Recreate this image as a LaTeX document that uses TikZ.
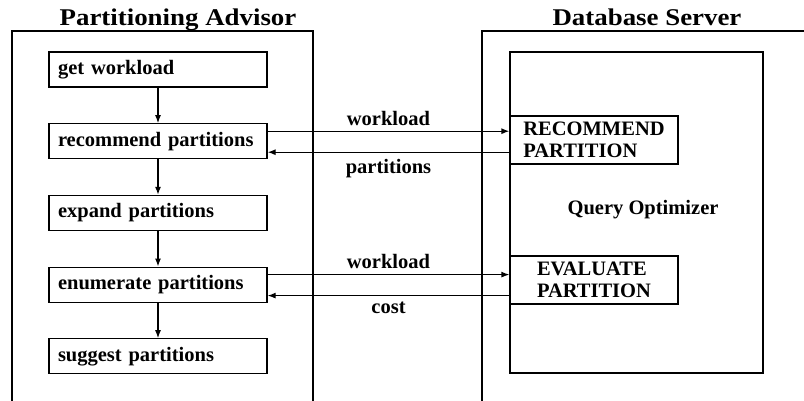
\documentclass[tikz,border=0pt]{standalone}
\usepackage{fontspec}
\setmainfont{Liberation Serif}
\newfontfamily\titlefont[FakeStretch=1.12]{Liberation Serif}
\usetikzlibrary{arrows.meta,positioning}
\tikzset{
  stepbox/.style={draw, line width=1.2pt, text width=200pt, inner xsep=9pt,
    align=left, minimum height=35pt},
  srvbox/.style={draw, line width=1.2pt, align=left, minimum width=168pt,
    minimum height=48pt},
  flow/.style={-{Latex[length=8pt,width=6pt]}, line width=1.2pt},
  msg/.style={inner sep=2pt},
  paneltitle/.style={font=\titlefont\bfseries\fontsize{24}{28}\selectfont, anchor=base}
}
\begin{document}
\begin{tikzpicture}[x=1pt, y=-1pt, font=\bfseries\fontsize{20.5}{22}\selectfont]
  \useasboundingbox (0,0) rectangle (804,400);
  \clip (0,0) rectangle (804,400);
  % panels
  \draw[line width=1.6pt] (12,420) |- (313,31) -- (313,420);
  \draw[line width=1.6pt] (482,420) |- (830,31);
  \node[paneltitle] (advtitle) at (178,25) {Partitioning Advisor};
  \node[paneltitle] (srvtitle) at (647,25) {Database Server};
  % advisor steps
  \node[stepbox] (getwl) at (158,69.5) {get workload};
  \node[stepbox, below=35.5pt of getwl] (recall) {recommend partitions};
  \node[stepbox, below=35.5pt of recall] (expall) {expand partitions};
  \node[stepbox, below=35.5pt of expall] (enumall) {enumerate partitions};
  \node[stepbox, below=35.5pt of enumall] (suggall) {suggest partitions};
  \draw[flow] (getwl) -- (recall);
  \draw[flow] (recall) -- (expall);
  \draw[flow] (expall) -- (enumall);
  \draw[flow] (enumall) -- (suggall);
  % optimizer
  \node[draw, line width=1.2pt, minimum width=253pt, minimum height=321pt]
    (optbox) at (636.5,212.5) {};
  \node (opttitle) at (643,210) {Query Optimizer};
  \node[srvbox] (recsrv) at (594,140) {RECOMMEND\\PARTITION};
  \node[srvbox] (evalsrv) at (594,280) {EVALUATE\\PARTITION};
  % calls
  \coordinate (recout) at ([yshift=10pt]recall.east);
  \coordinate (recin) at ([yshift=-11pt]recall.east);
  \coordinate (enumout) at ([yshift=10pt]enumall.east);
  \coordinate (enumin) at ([yshift=-11pt]enumall.east);
  \draw[flow] (recout) -- (recout -| recsrv.west)
    node[midway, above=3pt, msg] {workload};
  \draw[flow] (recin -| recsrv.west) -- (recin)
    node[midway, below=4pt, msg] {partitions};
  \draw[flow] (enumout) -- (enumout -| evalsrv.west)
    node[midway, above=3pt, msg] {workload};
  \draw[flow] (enumin -| evalsrv.west) -- (enumin)
    node[midway, below=4pt, msg] {cost};
\end{tikzpicture}
\end{document}
